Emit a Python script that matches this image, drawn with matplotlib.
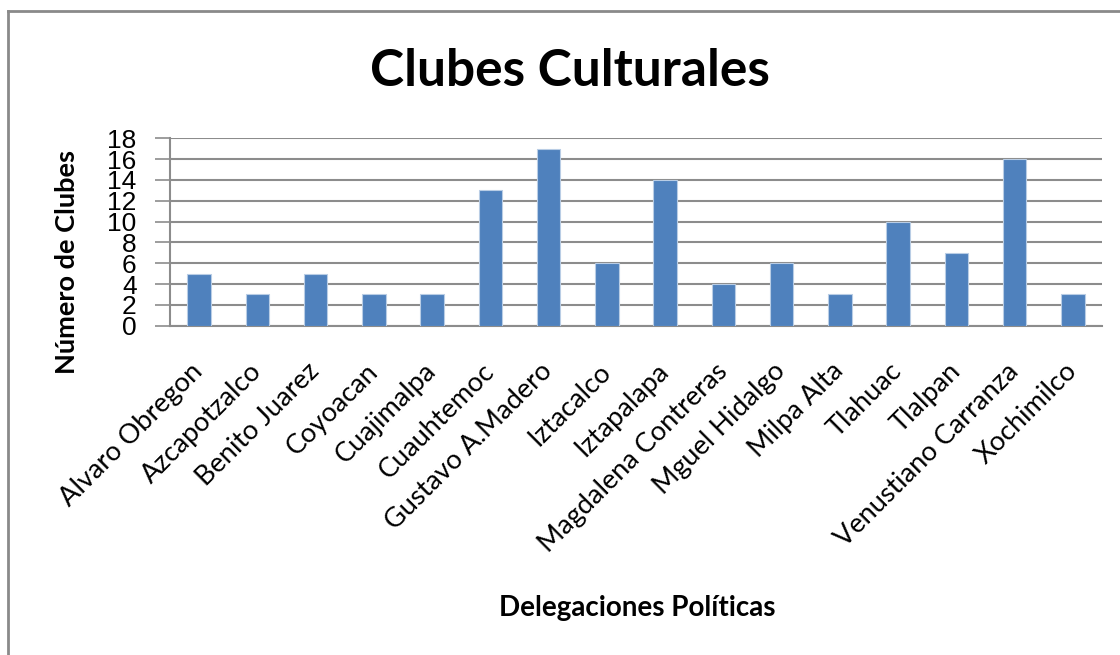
import matplotlib
matplotlib.use("Agg")
import matplotlib.pyplot as plt
from matplotlib import font_manager
from matplotlib.lines import Line2D

delegaciones = [
    "Alvaro Obregon", "Azcapotzalco", "Benito Juarez", "Coyoacan",
    "Cuajimalpa", "Cuauhtemoc", "Gustavo A.Madero", "Iztacalco",
    "Iztapalapa", "Magdalena Contreras", "Mguel Hidalgo", "Milpa Alta",
    "Tlahuac", "Tlalpan", "Venustiano Carranza", "Xochimilco",
]
clubes = [5, 3, 5, 3, 3, 13, 17, 6, 14, 4, 6, 3, 10, 7, 16, 3]
y_ticks = [0, 2, 4, 6, 8, 10, 12, 14, 16, 18]

names = {f.name for f in font_manager.fontManager.ttflist}
main_font = "Lato" if "Lato" in names else "DejaVu Sans"
tick_font = "Liberation Sans" if "Liberation Sans" in names else main_font

W, H = 1120, 655
fig = plt.figure(figsize=(W / 100, H / 100), dpi=100)
fig.patch.set_facecolor("white")

# chart frame (left and top edges)
fy = 1 - 11 / H
fx = 8 / W
fig.add_artist(Line2D([fx, fx], [0, fy], transform=fig.transFigure,
                      color="#8a8a8a", lw=2))
fig.add_artist(Line2D([fx, 1], [fy, fy], transform=fig.transFigure,
                      color="#8a8a8a", lw=2))

left, right, top, bottom = 170, 1102, 138.3, 325.7
ax = fig.add_axes([left / W, 1 - bottom / H, (right - left) / W, (bottom - top) / H])

x = range(len(delegaciones))
ax.bar(x, clubes, width=0.4, color="#4F81BD", edgecolor="#b9cde5",
       linewidth=0.8, zorder=3)

ax.set_xlim(-0.5, len(delegaciones) - 0.5)
ax.set_ylim(0, 18)
ax.set_yticks(y_ticks)
ax.set_yticklabels([str(v) for v in y_ticks], fontfamily=tick_font, fontsize=19)
ax.yaxis.grid(True, color="#8c8c8c", lw=1.5, zorder=0)
ax.tick_params(axis="y", length=11, width=1.2, color="#8c8c8c", pad=13)
ax.tick_params(axis="x", length=0, pad=30)

ax.set_xticks(list(x))
ax.set_xticklabels(delegaciones, rotation=45, ha="right", va="center",
                   rotation_mode="anchor", fontfamily=main_font, fontsize=19.5)

for side in ("top", "right"):
    ax.spines[side].set_visible(False)
for side in ("left", "bottom"):
    ax.spines[side].set_color("#8c8c8c")
    ax.spines[side].set_linewidth(1.5)

fig.text(570 / W, 1 - 72 / H, "Clubes Culturales", ha="center", va="center",
         fontfamily=main_font, fontweight="bold", fontsize=37)
fig.text(67 / W, 1 - 262 / H, "Número de Clubes", ha="center", va="center",
         rotation=90, fontfamily=main_font, fontweight="bold", fontsize=19.5)
fig.text(637 / W, 1 - 608 / H, "Delegaciones Políticas", ha="center", va="center",
         fontfamily=main_font, fontweight="bold", fontsize=20)

fig.savefig("out.png", dpi=100)
